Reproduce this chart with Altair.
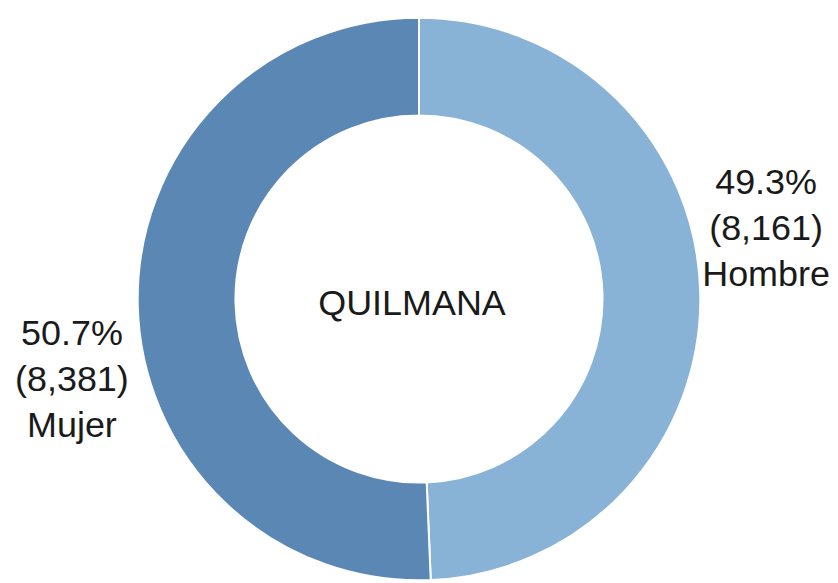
import altair as alt
import pandas as pd

categorias = ["Hombre", "Mujer"]
poblacion = [8161, 8381]
orden = [1, 2]
colores = ["#88B3D7", "#5B87B5"]
titulo_centro = "QUILMANA"

total = sum(poblacion)
etiquetas = [
    f"{v / total * 100:.1f}%\n({v:,})\n{c}" for c, v in zip(categorias, poblacion)
]

df = pd.DataFrame({
    "sexo": categorias,
    "poblacion": poblacion,
    "orden": orden,
    "etiqueta": etiquetas,
})

CX, CY = 412, 291

arcos = alt.Chart(df).mark_arc(
    outerRadius=282, innerRadius=184, stroke="white", strokeWidth=2
).encode(
    theta=alt.Theta("poblacion:Q", stack=True),
    order=alt.Order("orden:Q"),
    color=alt.Color("sexo:N", scale=alt.Scale(domain=categorias, range=colores), legend=None),
    x=alt.value(CX),
    y=alt.value(CY),
)

base_txt = alt.Chart(df).transform_stack(
    stack="poblacion", as_=["ini", "fin"], groupby=[], sort=[alt.SortField("orden")]
).transform_calculate(
    medio="(datum.ini + datum.fin) / 2"
)

def capa_texto(cat, dy):
    return base_txt.transform_filter(alt.datum.sexo == cat).mark_text(
        radius=348, lineBreak="\n", lineHeight=46, fontSize=36,
        font="Liberation Sans", color="#1a1a1a", align="center", baseline="middle",
        dy=dy,
    ).encode(
        theta=alt.Theta("medio:Q", stack=None, scale=alt.Scale(domain=[0, total])),
        text="etiqueta:N",
        x=alt.value(CX),
        y=alt.value(CY),
    )

txt_h = capa_texto("Hombre", -109)
txt_m = capa_texto("Mujer", 28)

centro = alt.Chart(pd.DataFrame({"t": [titulo_centro]})).mark_text(
    fontSize=36, font="Liberation Sans", color="#1a1a1a", align="center", baseline="middle"
).encode(text="t:N", x=alt.value(CX - 7), y=alt.value(CY + 5))

chart = alt.layer(arcos, txt_h, txt_m, centro).resolve_scale(theta="independent").properties(
    width=822, height=567, padding=0
).configure_view(strokeWidth=0, stroke="transparent")

chart.save("out.html", embed_options={"renderer": "svg", "actions": False})
